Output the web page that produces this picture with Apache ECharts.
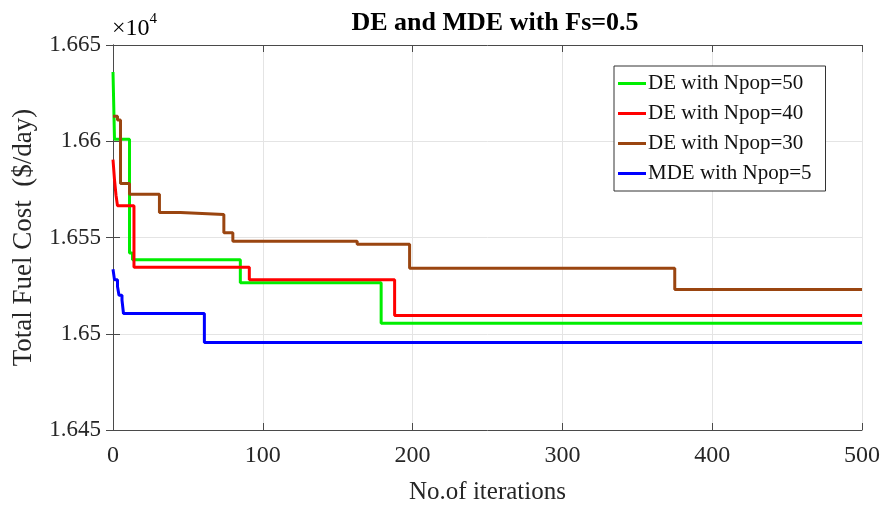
<!DOCTYPE html>
<html>
<head>
<meta charset="utf-8">
<script src="https://cdn.jsdelivr.net/npm/echarts@6/dist/echarts.min.js"></script>
<style>
  html, body { margin: 0; padding: 0; background: #fff; }
  #chart { width: 884px; height: 515px; }
</style>
</head>
<body>
<div id="chart"></div>
<script>
// values, cost in $/day
const seriesNames = ["DE with Npop=50", "DE with Npop=40", "DE with Npop=30", "MDE with Npop=5"];

const greenIter = [0, 1, 11, 13, 85, 179, 500];
const greenCost = [16636, 16601, 16542, 16538.5, 16526.5, 16505.5, 16505.5];

const redIter = [0, 1, 2, 3, 14, 91, 188, 500];
const redCost = [16590.5, 16580, 16572, 16566.5, 16534.5, 16528, 16509.5, 16509.5];

const brownIter = [0, 3, 5, 11, 31, 45, 74, 80, 163, 198, 375, 500];
const brownCost = [16613, 16611, 16578, 16572.5, 16563, 16562, 16552.5, 16548, 16546.5, 16534, 16523, 16523];

const blueIter = [0, 1, 3, 4, 6, 7, 61, 500];
const blueCost = [16533.5, 16528, 16524.5, 16520, 16517.5, 16510.5, 16495.5, 16495.5];

const xTicks = [0, 100, 200, 300, 400, 500];
const yTicks = [16450, 16500, 16550, 16600, 16650];

const colors = ["#00ee00", "#ff0000", "#9a4510", "#0000ff"];
const font = "Liberation Serif, Times New Roman, serif";

function zip(xs, ys) {
  return xs.map(function (x, i) { return [x, ys[i]]; });
}

let chart = echarts.init(document.getElementById("chart"));

const axisCommon = {
  type: "value",
  axisLine: { show: true, lineStyle: { color: "#4a4a4a", width: 1 } },
  axisTick: { show: true, inside: true, length: 7, lineStyle: { color: "#4a4a4a" } }
};

let option = {
  animation: false,
  backgroundColor: "#fff",
  title: {
    text: "DE and MDE with Fs=0.5",
    left: 490,
    textAlign: "center",
    top: 5,
    textStyle: { fontFamily: font, fontWeight: "bold", fontSize: 26, color: "#000" }
  },
  graphic: [{
    type: "text",
    left: 112,
    top: 12,
    style: {
      text: "{a|×10}{b|4}",
      rich: {
        a: { fontFamily: font, fontSize: 24, color: "#262626", verticalAlign: "bottom" },
        b: { fontFamily: font, fontSize: 15, color: "#262626", verticalAlign: "top", padding: [0, 0, 14, 0] }
      }
    }
  }],
  legend: {
    orient: "vertical",
    left: 614,
    top: 66,
    padding: [7, 14, 7, 4],
    itemGap: 9,
    itemWidth: 28,
    itemHeight: 3,
    icon: "rect",
    borderColor: "#333",
    borderWidth: 1,
    backgroundColor: "#fff",
    textStyle: { fontFamily: font, fontSize: 21, color: "#111", lineHeight: 21, padding: [0, 0, 0, -3] },
    data: seriesNames
  },
  grid: { left: 113, right: 22, top: 45, bottom: 85 },
  xAxis: [
    Object.assign({}, axisCommon, {
      position: "bottom",
      min: xTicks[0],
      max: xTicks[xTicks.length - 1],
      interval: 100,
      name: "No.of iterations",
      nameLocation: "middle",
      nameGap: 50,
      nameTextStyle: { fontFamily: font, fontSize: 25, color: "#262626" },
      splitLine: { show: true, lineStyle: { color: "#e4e4e4" } },
      axisLabel: { fontFamily: font, fontSize: 24, color: "#262626", margin: 14 }
    }),
    Object.assign({}, axisCommon, {
      position: "top",
      min: xTicks[0],
      max: xTicks[xTicks.length - 1],
      interval: 100,
      splitLine: { show: false },
      axisLabel: { show: false }
    })
  ],
  yAxis: [
    Object.assign({}, axisCommon, {
      position: "left",
      min: yTicks[0],
      max: yTicks[yTicks.length - 1],
      interval: 50,
      name: "Total Fuel Cost  ($/day)",
      nameLocation: "middle",
      nameGap: 76,
      nameTextStyle: { fontFamily: font, fontSize: 27, color: "#262626" },
      splitLine: { show: true, lineStyle: { color: "#e4e4e4" } },
      axisLabel: {
        fontFamily: font, fontSize: 23, color: "#262626", margin: 12,
        formatter: function (v) { return String(parseFloat((v / 1e4).toFixed(4))); }
      }
    }),
    Object.assign({}, axisCommon, {
      position: "right",
      min: yTicks[0],
      max: yTicks[yTicks.length - 1],
      interval: 50,
      splitLine: { show: false },
      axisLabel: { show: false }
    })
  ],
  series: [
    { name: seriesNames[0], data: zip(greenIter, greenCost), color: colors[0] },
    { name: seriesNames[1], data: zip(redIter, redCost), color: colors[1] },
    { name: seriesNames[2], data: zip(brownIter, brownCost), color: colors[2] },
    { name: seriesNames[3], data: zip(blueIter, blueCost), color: colors[3] }
  ].map(function (s) {
    return Object.assign({
      type: "line",
      step: "end",
      symbol: "none",
      xAxisIndex: 0,
      yAxisIndex: 0,
      lineStyle: { width: 3 }
    }, s);
  })
};

chart.setOption(option, true);
</script>
</body>
</html>
